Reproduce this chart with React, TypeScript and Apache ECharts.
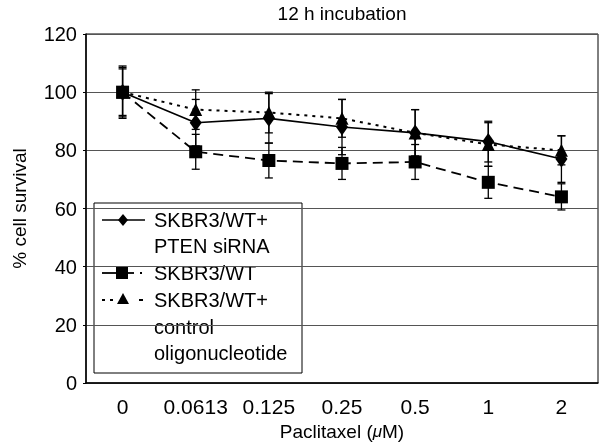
import React, { useEffect, useRef } from "react";
import * as echarts from "echarts";

const categories = ["0", "0.0613", "0.125", "0.25", "0.5", "1", "2"];
const ptenValues = [100, 89.5, 91, 88, 86, 83, 77];
const ptenErr = [8.5, 8, 8.5, 9.5, 8, 7, 8];
const wtValues = [100, 79.5, 76.5, 75.5, 76, 69, 64];
const wtErr = [8, 6, 6, 5.5, 6, 5.5, 4.5];
const ctrlValues = [100, 94, 93, 91, 86, 82, 80];
const ctrlErr = [9, 6.8, 7, 6.5, 8, 7.5, 5];
const yTicks = [0, 20, 40, 60, 80, 100, 120];

const FONT = "Liberation Sans";

function errData(vals: number[], errs: number[]) {
  return vals.map((v, i) => [i, v - errs[i], v + errs[i]]);
}

function errSeries(vals: number[], errs: number[]) {
  return {
    type: "custom",
    silent: true,
    z: 3,
    data: errData(vals, errs),
    encode: { x: 0, y: [1, 2] },
    renderItem: (params: any, api: any) => {
      const x = api.value(0);
      const lo = api.coord([x, api.value(1)]);
      const hi = api.coord([x, api.value(2)]);
      const hw = 4;
      const st = { stroke: "#000", lineWidth: 1.3 };
      return {
        type: "group",
        children: [
          { type: "line", shape: { x1: lo[0], y1: lo[1], x2: hi[0], y2: hi[1] }, style: st },
          { type: "line", shape: { x1: lo[0] - hw, y1: lo[1], x2: lo[0] + hw, y2: lo[1] }, style: st },
          { type: "line", shape: { x1: hi[0] - hw, y1: hi[1], x2: hi[0] + hw, y2: hi[1] }, style: st },
        ],
      };
    },
  };
}

export default function App() {
  const ref = useRef<HTMLDivElement>(null);
  useEffect(() => {
    if (!ref.current) return;
    const chart = echarts.init(ref.current, null, { renderer: "svg" });
    const lx = 102;
    const legendTextX = 154;
    const fs = 20;
    chart.setOption({
      animation: false,
      textStyle: { fontFamily: FONT },
      title: {
        text: "12 h incubation",
        left: 342,
        top: 4,
        padding: 0,
        textAlign: "center",
        textStyle: { fontFamily: FONT, fontSize: 19, fontWeight: "normal", color: "#000" },
      },
      grid: {
        left: 86,
        right: 1,
        top: 34,
        bottom: 59,
        show: true,
        borderColor: "#000",
        borderWidth: 1,
        outerBoundsMode: "none",
        containLabel: false,
      },
      xAxis: {
        type: "category",
        data: categories,
        boundaryGap: true,
        name: "Paclitaxel ({i|μ}M)",
        nameLocation: "middle",
        nameGap: 38,
        nameTextStyle: {
          fontFamily: FONT,
          fontSize: 19,
          color: "#000",
          rich: { i: { fontFamily: FONT, fontSize: 17, fontStyle: "italic", color: "#000" } },
        },
        axisLine: { lineStyle: { color: "#000", width: 1.5 } },
        axisTick: { inside: true, length: 6, lineStyle: { color: "#000" } },
        axisLabel: { fontFamily: FONT, fontSize: 21, color: "#000", margin: 13, interval: 0 },
        splitLine: { show: false },
      },
      yAxis: {
        type: "value",
        min: yTicks[0],
        max: yTicks[yTicks.length - 1],
        interval: 20,
        name: "% cell survival",
        nameLocation: "middle",
        nameGap: 57,
        nameTextStyle: { fontFamily: FONT, fontSize: 19, color: "#000" },
        axisLine: { show: true, lineStyle: { color: "#000", width: 1.5 } },
        axisTick: { show: true, length: 3, lineStyle: { color: "#000" } },
        axisLabel: { fontFamily: FONT, fontSize: 20, color: "#000", margin: 9 },
        splitLine: { show: true, lineStyle: { color: "#555", width: 1 } },
      },
      series: [
        {
          name: "SKBR3/WT+ PTEN siRNA",
          type: "line",
          data: ptenValues,
          symbol: "diamond",
          symbolSize: [12, 17],
          itemStyle: { color: "#000" },
          lineStyle: { color: "#000", width: 1.6, type: "solid" },
          z: 4,
        },
        {
          name: "SKBR3/WT+ control oligonucleotide",
          type: "line",
          data: ctrlValues,
          symbol: "triangle",
          symbolSize: [13, 13],
          itemStyle: { color: "#000" },
          lineStyle: { color: "#000", width: 2, type: [3, 5] },
          z: 4,
        },
        {
          name: "SKBR3/WT",
          type: "line",
          data: wtValues,
          symbol: "rect",
          symbolSize: 13,
          itemStyle: { color: "#000" },
          lineStyle: { color: "#000", width: 1.8, type: [10, 6] },
          z: 5,
        },
        errSeries(ptenValues, ptenErr),
        errSeries(ctrlValues, ctrlErr),
        errSeries(wtValues, wtErr),
      ],
      graphic: [
        {
          type: "group",
          z: 100,
          children: [
            {
              type: "rect",
              shape: { x: 94, y: 203, width: 208, height: 170 },
              style: { fill: "#fff", stroke: "#000", lineWidth: 1 },
            },
            { type: "line", shape: { x1: lx, y1: 220, x2: 145, y2: 220 }, style: { stroke: "#000", lineWidth: 1.6 } },
            {
              type: "polygon",
              shape: { points: [[123, 214], [128, 220], [123, 226], [118, 220]] },
              style: { fill: "#000" },
            },
            { type: "line", shape: { x1: lx, y1: 273, x2: 118, y2: 273 }, style: { stroke: "#000", lineWidth: 1.8 } },
            { type: "rect", shape: { x: 116, y: 267, width: 12, height: 12 }, style: { fill: "#000" } },
            { type: "line", shape: { x1: 128, y1: 273, x2: 134, y2: 273 }, style: { stroke: "#000", lineWidth: 1.8 } },
            { type: "line", shape: { x1: 140, y1: 273, x2: 142, y2: 273 }, style: { stroke: "#000", lineWidth: 1.8 } },
            { type: "line", shape: { x1: lx, y1: 300, x2: 105, y2: 300 }, style: { stroke: "#000", lineWidth: 2 } },
            { type: "line", shape: { x1: 110, y1: 300, x2: 113, y2: 300 }, style: { stroke: "#000", lineWidth: 2 } },
            {
              type: "polygon",
              shape: { points: [[123, 293], [129, 304], [117, 304]] },
              style: { fill: "#000" },
            },
            { type: "line", shape: { x1: 139, y1: 300, x2: 143, y2: 300 }, style: { stroke: "#000", lineWidth: 2 } },
            ...[
              ["SKBR3/WT+", 220],
              ["PTEN siRNA", 246],
              ["SKBR3/WT", 273],
              ["SKBR3/WT+", 300],
              ["control", 327],
              ["oligonucleotide", 353],
            ].map(([t, y]) => ({
              type: "text",
              x: legendTextX,
              y: y as number,
              style: {
                text: t as string,
                fontFamily: FONT,
                fontSize: fs,
                fill: "#000",
                textVerticalAlign: "middle",
                verticalAlign: "middle",
              },
            })),
          ],
        },
      ],
    });
    return () => chart.dispose();
  }, []);
  return (
    <div
      ref={ref}
      style={{ position: "fixed", left: 0, top: 0, width: 599, height: 442 }}
    />
  );
}
